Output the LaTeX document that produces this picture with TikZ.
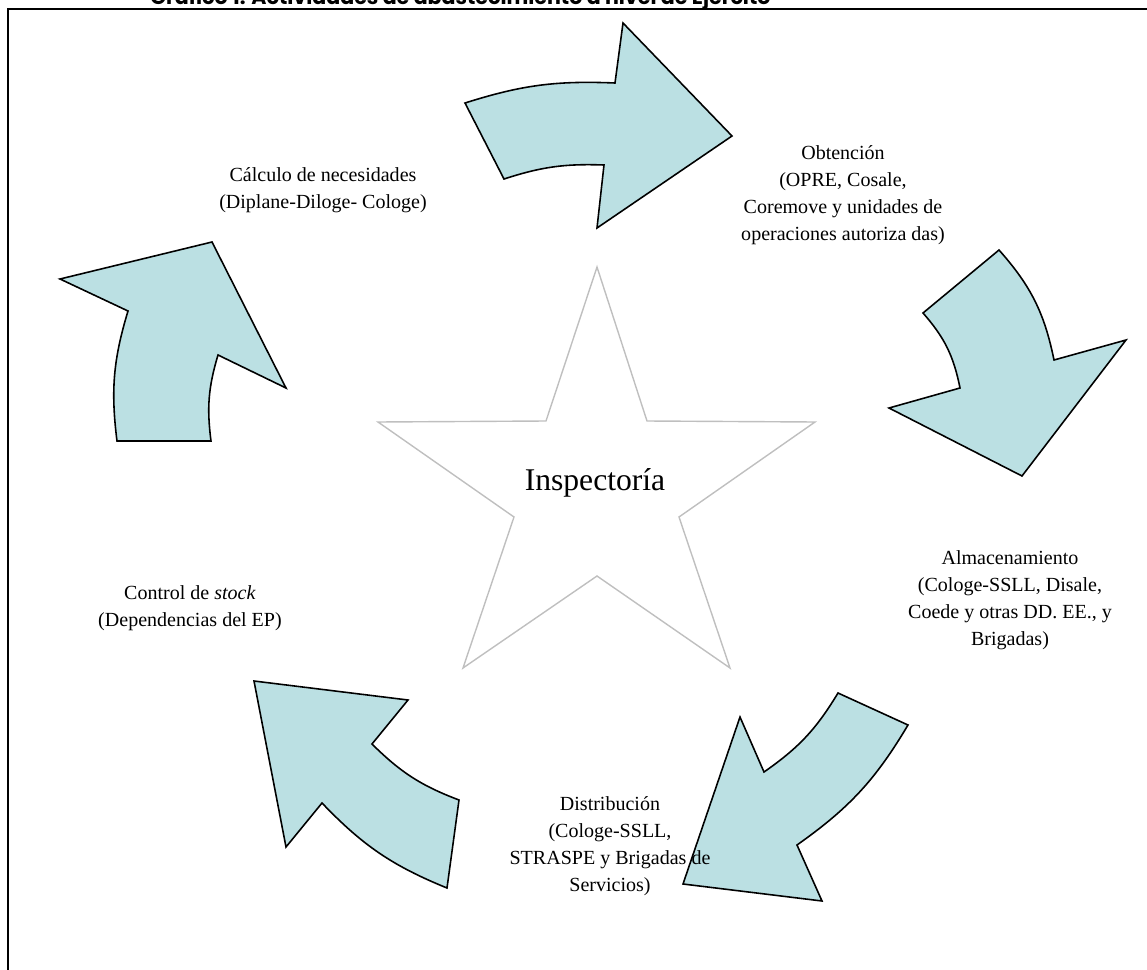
\documentclass[tikz,border=0pt]{standalone}
\usepackage{fontspec}
\setmainfont{Liberation Serif}
\newfontfamily\titlefont{Poppins}
\definecolor{flechafill}{HTML}{BBE0E3}
\definecolor{estrella}{HTML}{BFBFBF}

\begin{document}
\begin{tikzpicture}
  [x=0.02cm,y=-0.02cm,
   every node/.style={inner sep=0pt},
   flecha/.style={fill=flechafill,draw=black,line width=0.9pt,line join=miter},
   etiqueta/.style={align=center,font=\fontsize{11.4}{15.3}\selectfont}]
  \useasboundingbox (0,0) rectangle (1147,970);

  % marco y titulo
  \draw[line width=1.3pt] (8,970) -- (8,9) -- (1147,9);
  \node[anchor=base west,font=\titlefont\bfseries\fontsize{11.7}{13}\selectfont]
    (titulo) at (150,5) {Gráfico 1: Actividades de abastecimiento a nivel de Ejército};

  % estrella central
  \draw[estrella,line width=0.8pt] (597,267) -- (647,421) -- (815,422) -- (679,517)
    -- (730,668) -- (597,576) -- (463,668) -- (514,517) -- (378,422) -- (546,421) -- cycle;
  \node[font=\fontsize{18}{20}\selectfont] (insp) at (595,483) {Inspectoría};

  % flechas
  \draw[flecha] (465,103) to[bend left=10] (615,83) -- (623,23) -- (732,136)
    -- (597,228) -- (604,165) to[bend right=10] (504,179) -- cycle;
  \draw[flecha] (999,250) to[bend left=15] (1054,360) -- (1126,340) -- (1022,476)
    -- (889,408) -- (960,388) to[bend right=15] (923,313) -- cycle;
  \draw[flecha] (908,725) to[bend left=12] (797,845) -- (822,901) -- (683,884)
    -- (740,717) -- (764,772) to[bend right=12] (838,693) -- cycle;
  \draw[flecha] (459,800) to[bend left=12] (372,744) -- (408,700) -- (254,681)
    -- (286,847) -- (322,803) to[bend right=12] (447,888) -- cycle;
  \draw[flecha] (117,441) to[bend left=12] (128,311) -- (60,279) -- (212,242)
    -- (286,388) -- (218,355) to[bend right=12] (211,441) -- cycle;

  % etiquetas
  \node[etiqueta] (calculo) at (323,190) {Cálculo de necesidades\\(Diplane-Diloge- Cologe)};
  \node[etiqueta] (obtencion) at (843,195) {Obtención\\(OPRE, Cosale,\\Coremove y unidades de\\operaciones autoriza das)};
  \node[etiqueta] (almacen) at (1010,600) {Almacenamiento\\(Cologe-SSLL, Disale,\\Coede y otras DD. EE., y\\Brigadas)};
  \node[etiqueta] (distrib) at (610,846) {Distribución\\(Cologe-SSLL,\\STRASPE y Brigadas de\\Servicios)};
  \node[etiqueta] (control) at (190,608) {Control de \textit{stock}\\(Dependencias del EP)};
\end{tikzpicture}
\end{document}
